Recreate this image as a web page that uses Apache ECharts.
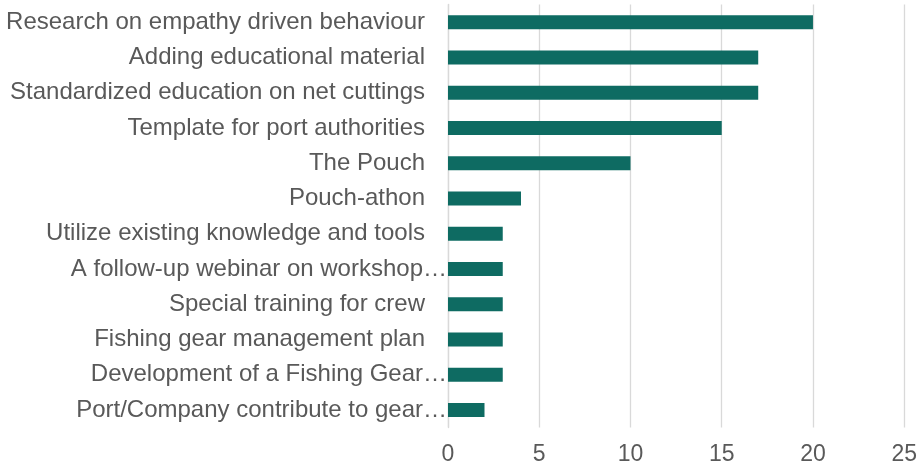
<!DOCTYPE html>
<html><head><meta charset="utf-8">
<script src="https://cdn.jsdelivr.net/npm/echarts@6/dist/echarts.min.js"></script>
<style>html,body{margin:0;padding:0;background:#fff}#c{width:920px;height:468px}</style>
</head><body><div id="c"></div>
<script>
const categories = [
  "Research on empathy driven behaviour",
  "Adding educational material",
  "Standardized education on net cuttings",
  "Template for port authorities",
  "The Pouch",
  "Pouch-athon",
  "Utilize existing knowledge and tools",
  "A follow-up webinar on workshop…",
  "Special training for crew",
  "Fishing gear management plan",
  "Development of a Fishing Gear…",
  "Port/Company contribute to gear…"
];
const values = [20, 17, 17, 15, 10, 4, 3, 3, 3, 3, 3, 2];
const xTicks = [0, 5, 10, 15, 20, 25];

const FF = 'Liberation Sans, Arial, sans-serif';
const chart = echarts.init(document.getElementById('c'), null, {renderer: 'canvas'});
chart.setOption({
  animation: false,
  grid: {left: 448, right: 10, top: 4.5, bottom: 40.5, containLabel: false},
  xAxis: {
    type: 'value', min: xTicks[0], max: xTicks[xTicks.length - 1], interval: 5,
    axisLine: {show: false}, axisTick: {show: false},
    splitLine: {show: true, lineStyle: {color: '#d9d9d9', width: 1.3}},
    axisLabel: {color: '#595959', fontSize: 23, fontFamily: FF, margin: 16}
  },
  yAxis: {
    type: 'category', data: categories, inverse: true,
    axisLine: {show: true, lineStyle: {color: '#d9d9d9', width: 1.3}},
    axisTick: {show: false},
    axisLabel: {
      color: '#595959', fontSize: 24, fontFamily: FF, margin: 1,
      formatter: v => v.endsWith('…') ? '{t|' + v + '}' : '{n|' + v + '}',
      rich: {
        t: {color: '#595959', fontSize: 24, fontFamily: FF},
        n: {color: '#595959', fontSize: 24, fontFamily: FF, padding: [0, 22, 0, 0]}
      }
    }
  },
  series: [{
    type: 'bar', data: values, barWidth: 14,
    itemStyle: {color: '#0E6B62'}
  }]
});
</script></body></html>
